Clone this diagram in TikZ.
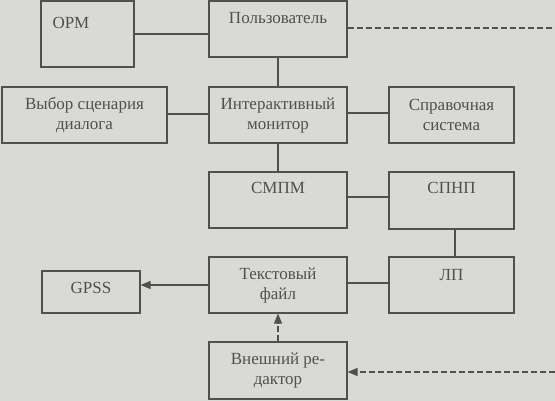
\documentclass[tikz,border=0pt]{standalone}
\usepackage{fontspec}
\setmainfont{Liberation Serif}
\usepackage{tikz}
\usetikzlibrary{arrows.meta}
\definecolor{paper}{RGB}{217,217,214}
\definecolor{ink}{RGB}{80,80,80}

\begin{document}
\begin{tikzpicture}[x=1pt, y=-1pt, every node/.style={font=\fontsize{17}{20}\selectfont, text=ink},
    blk/.style={draw=ink, line width=1.1pt, inner sep=3pt, align=center},
    txtup/.style={text height=12pt, text depth=#1},
    link/.style={draw=ink, line width=1.1pt},
    dlink/.style={link, dash pattern=on 6pt off 3pt},
    tip/.style={-{Triangle[length=10pt,width=8pt]}}]
        \fill[paper] (0,0) rectangle (555,401);
        \useasboundingbox (0,0) rectangle (555,401);
        \node[blk, minimum width=93pt, minimum height=66pt, text width=70pt, align=left, txtup=23pt] (orm) at (87.5,34) {ОРМ};
        \node[blk, minimum width=138pt, minimum height=56pt, txtup=23pt] (user) at (278,29) {Пользователь};
        \node[blk, minimum width=165pt, minimum height=56pt] (scen) at (84.5,115) {Выбор сценария\\диалога};
        \node[blk, minimum width=138pt, minimum height=56pt] (imon) at (278,115) {Интерактивный\\монитор};
        \node[blk, minimum width=125pt, minimum height=56pt] (help) at (451.5,115) {Справочная\\система};
        \node[blk, minimum width=138pt, minimum height=56pt, txtup=25pt] (smpm) at (278,200) {СМПМ};
        \node[blk, minimum width=125pt, minimum height=57pt, txtup=25pt] (spnp) at (451.5,200.5) {СПНП};
        \node[blk, minimum width=98pt, minimum height=42pt, txtup=9pt] (gpss) at (91,292) {GPSS};
        \node[blk, minimum width=138pt, minimum height=56pt] (tfile) at (278,285) {Текстовый\\файл};
        \node[blk, minimum width=125pt, minimum height=56pt, txtup=21pt] (lp) at (451.5,285) {ЛП};
        \node[blk, minimum width=138pt, minimum height=57pt] (ext) at (278,370.5) {Внешний ре-\\дактор};
        \coordinate (rtop) at (555,28);
        \coordinate (rbot) at (555,372);
        \draw[link] (orm.east) -- (orm.east -| user.west);
        \draw[link] (user) -- (imon);
        \draw[link] ([yshift=1pt]scen.east) -- ([yshift=1pt]scen.east -| imon.west);
        \draw[link] ([yshift=2pt]imon.east) -- ([yshift=2pt]imon.east -| help.west);
        \draw[link] (imon) -- (smpm);
        \draw[link] ([yshift=3pt]smpm.east) -- ([yshift=3pt]smpm.east -| spnp.west);
        \draw[link] ([xshift=3.5pt]spnp.south) -- ([xshift=3.5pt]spnp.south |- lp.north);
        \draw[link] ([yshift=2pt]tfile.east) -- ([yshift=2pt]tfile.east -| lp.west);
        \draw[link, tip] (tfile.west) -- (tfile.west -| gpss.east);
        \draw[dlink, tip] (ext) -- (tfile);
        \draw[dlink] (user.east |- rtop) -- (rtop);
        \draw[dlink, tip] (rbot) -- (rbot -| ext.east);
    \end{tikzpicture}
\end{document}
